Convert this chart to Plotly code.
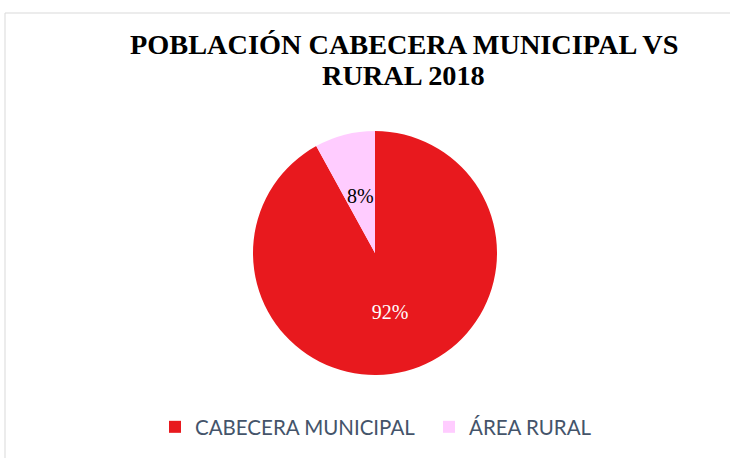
import plotly.graph_objects as go

labels = ["CABECERA MUNICIPAL", "ÁREA RURAL"]
values = [92, 8]
colors = ["#E8191E", "#FFCCFF"]
text_colors = ["#FFFFFF", "#000000"]
title_lines = ["POBLACIÓN CABECERA MUNICIPAL VS", "RURAL 2018"]

W, H = 730, 458
cx, cy, r = 375, 253, 122
r_inner = 74  # helper radius used only to place the small slice's label nearer the centre


def dom(rad):
    return dict(x=[(cx - rad) / W, (cx + rad) / W], y=[1 - (cy + rad) / H, 1 - (cy - rad) / H])


fig = go.Figure()
fig.add_trace(go.Pie(
    labels=labels, values=values, sort=False, direction="clockwise", rotation=0,
    marker=dict(colors=colors, line=dict(width=0)),
    texttemplate=["%{percent:.0%}", ""], textposition="inside", insidetextorientation="horizontal",
    textfont=dict(family="Liberation Serif", size=20, color=text_colors),
    domain=dom(r), hoverinfo="label+percent",
))
fig.add_trace(go.Pie(
    labels=labels, values=values, sort=False, direction="clockwise", rotation=0,
    marker=dict(colors=["rgba(0,0,0,0)"] * 2, line=dict(width=0)),
    texttemplate=["", "%{percent:.0%}"], textposition="inside", insidetextorientation="horizontal",
    textfont=dict(family="Liberation Serif", size=20, color=text_colors),
    domain=dom(r_inner), hoverinfo="skip", showlegend=False,
))

annotations = []
for i, line in enumerate(title_lines):
    annotations.append(dict(text=f"<b>{line}</b>", xref="paper", yref="paper", x=404 / W,
                            y=1 - (44 + 31 * i) / H, xanchor="center", yanchor="middle", showarrow=False,
                            font=dict(family="Liberation Serif", size=28.3, color="#000000")))

fig.update_layout(
    width=W, height=H, margin=dict(l=0, r=0, t=0, b=0, autoexpand=False),
    paper_bgcolor="white", plot_bgcolor="white",
    annotations=annotations,
    uniformtext=dict(minsize=20, mode="show"),
    legend=dict(orientation="h", x=155 / W, xanchor="left", y=1 - 427 / H, yanchor="middle",
                font=dict(family="Lato", size=20.5, color="#44546A"), itemwidth=30, entrywidth=229),
    shapes=[dict(type="rect", xref="paper", yref="paper", x0=5 / W, x1=1.05, y0=-0.05, y1=1 - 13 / H,
                 line=dict(color="#D9D9D9", width=1), fillcolor="rgba(0,0,0,0)", layer="below")],
)

fig.write_html("out.html", config={"displayModeBar": False},
               post_script="document.body.style.margin='0';document.body.style.overflow='hidden';")
